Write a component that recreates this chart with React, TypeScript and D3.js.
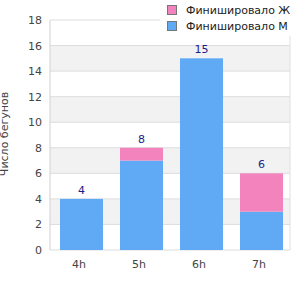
import React from "react";
import * as d3 from "d3";

const categories = ["4h", "5h", "6h", "7h"];
const male = [4, 7, 15, 3];
const female = [0, 1, 0, 3];
const yTicks = [0, 2, 4, 6, 8, 10, 12, 14, 16, 18];
const seriesNames = ["Финишировало Ж", "Финишировало М"];
const colors = { f: "#f283bd", m: "#60a9f5" };

export default function App() {
  const W = 300, H = 300;
  const left = 50, right = 290, top = 20, bottom = 250;
  const pi = 0.283;
  const x = d3.scaleBand().domain(categories).range([left + 1.5, right + 1.5]).paddingInner(pi).paddingOuter(pi / 2);
  const xAxis = d3.scaleBand().domain(categories).range([left - 1, right - 1]);
  const y = d3.scaleLinear().domain([0, 18]).range([bottom, top]);
  const totals = male.map((m, i) => m + female[i]);
  const font = "DejaVu Sans, sans-serif";
  return (
    <svg width={W} height={H} style={{ position: "absolute", left: 0, top: 0 }} fontFamily={font}>
      <rect x={0} y={0} width={W} height={H} fill="#fff" />
      {yTicks.slice(0, -1).map((t, i) =>
        i % 2 === 1 ? (
          <rect key={"b" + t} x={left} y={y(t + 2)} width={right - left} height={y(t) - y(t + 2)} fill="#f2f2f2" />
        ) : null
      )}
      {yTicks.map((t) => (
        <line key={"g" + t} x1={left} x2={right} y1={y(t)} y2={y(t)} stroke="#dddddd" />
      ))}
      <line x1={left} x2={left} y1={top} y2={bottom} stroke="#d0d0d0" />
      <line x1={right} x2={right} y1={top} y2={bottom} stroke="#e0e0e0" />
      {yTicks.map((t) => (
        <text key={"t" + t} x={left - 8} y={y(t) + 4} textAnchor="end" fontSize={11} fill="#444">
          {t}
        </text>
      ))}
      {categories.map((c, i) => (
        <g key={c}>
          <rect x={x(c)} y={y(male[i])} width={x.bandwidth()} height={y(0) - y(male[i])} fill={colors.m} />
          {female[i] > 0 && (
            <rect x={x(c)} y={y(totals[i])} width={x.bandwidth()} height={y(male[i]) - y(totals[i])} fill={colors.f} />
          )}
          <text x={x(c)! + x.bandwidth() / 2} y={y(totals[i]) - 5} textAnchor="middle" fontSize={11} fill="#1c1c8a">
            {totals[i]}
          </text>
          <text x={xAxis(c)! + xAxis.bandwidth() / 2} y={bottom + 18} textAnchor="middle" fontSize={11} fill="#444">
            {c}
          </text>
        </g>
      ))}
      <text transform={`translate(8,${(top + bottom) / 2 - 1}) rotate(-90)`} textAnchor="middle" fontSize={11} fill="#444">
        Число бегунов
      </text>
      <rect x={160} y={0} width={140} height={36} fill="#fff" />
      {seriesNames.map((n, i) => (
        <g key={n}>
          <rect x={167.5} y={5.5 + i * 16} width={9} height={9} fill={i === 0 ? colors.f : colors.m} stroke="#777" />
          <text x={186} y={14 + i * 16} fontSize={11} fill="#222">
            {n}
          </text>
        </g>
      ))}
    </svg>
  );
}
